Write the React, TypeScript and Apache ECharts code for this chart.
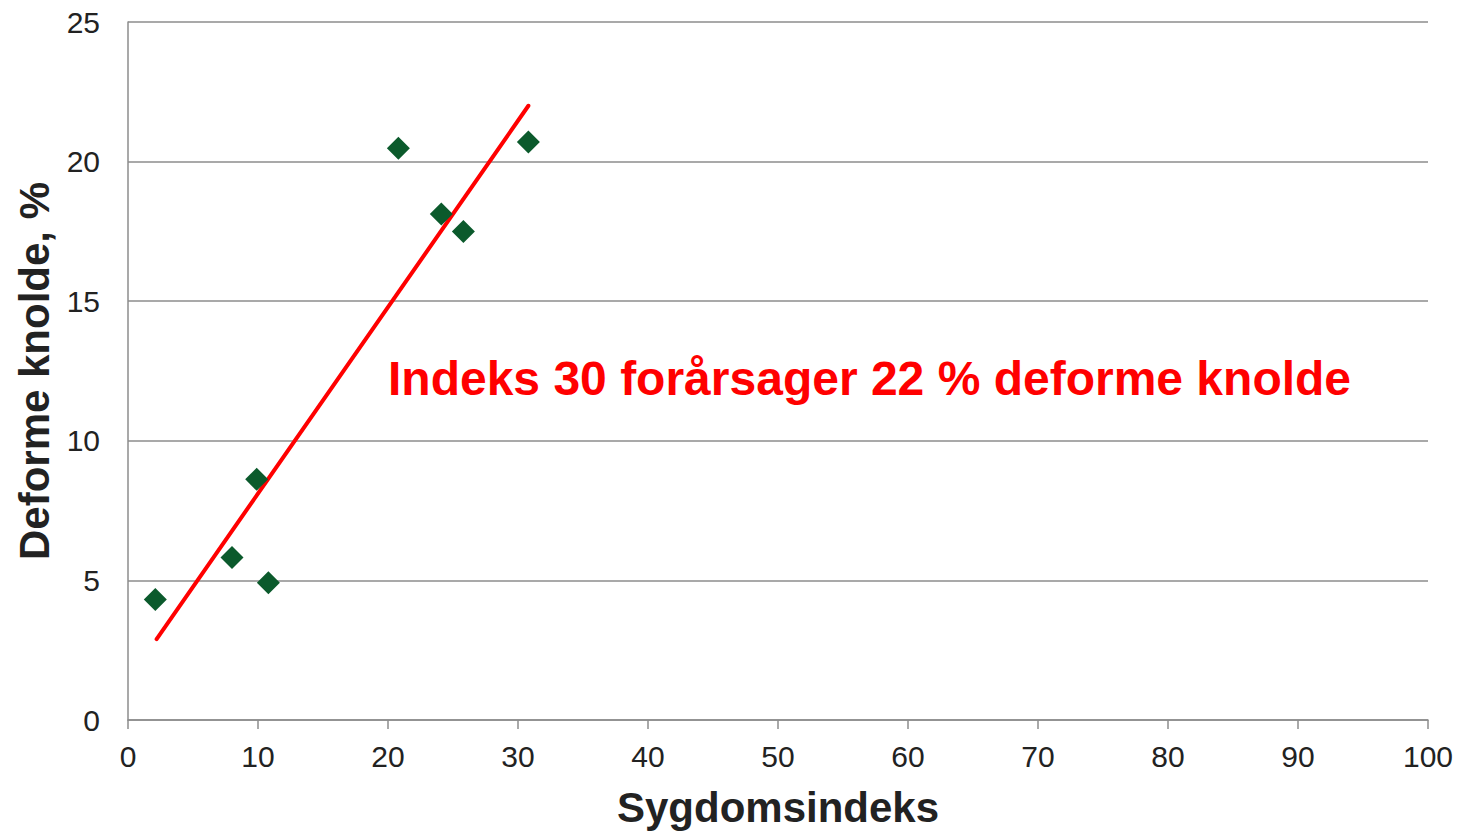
import React, { useEffect, useRef } from "react";
import * as echarts from "echarts";

const sygdomsindeks = [2.1, 8.0, 9.9, 10.8, 20.8, 24.1, 25.8, 30.8];
const deformeKnolde = [4.32, 5.82, 8.62, 4.92, 20.48, 18.12, 17.5, 20.7];
const trendX = [2.2, 30.8];
const trendY = [2.9, 22.0];
const xTicks = { min: 0, max: 100, interval: 10 };
const yTicks = { min: 0, max: 25, interval: 5 };
const xName = "Sygdomsindeks";
const yName = "Deforme knolde, %";
const annotation = "Indeks 30 forårsager 22 % deforme knolde";

const FONT = "'Liberation Sans', Arial, Helvetica, sans-serif";

export default function App() {
  const ref = useRef<HTMLDivElement>(null);
  useEffect(() => {
    if (!ref.current) return;
    const chart = echarts.init(ref.current, null, { renderer: "svg" });
    chart.setOption({
      animation: false,
      backgroundColor: "#ffffff",
      grid: { left: 128, right: 37, top: 22, bottom: 112, containLabel: false },
      xAxis: {
        type: "value",
        min: xTicks.min,
        max: xTicks.max,
        interval: xTicks.interval,
        name: xName,
        nameLocation: "middle",
        nameGap: 66,
        nameTextStyle: { fontFamily: FONT, fontSize: 42, fontWeight: "bold", color: "#222222" },
        axisLine: { show: true, lineStyle: { color: "#8c8c8c", width: 1.5 } },
        axisTick: { show: true, length: 9, lineStyle: { color: "#8c8c8c", width: 1.5 } },
        axisLabel: { fontFamily: FONT, fontSize: 30, color: "#222222", margin: 21 },
        splitLine: { show: false },
      },
      yAxis: {
        type: "value",
        min: yTicks.min,
        max: yTicks.max,
        interval: yTicks.interval,
        name: yName,
        nameLocation: "middle",
        nameGap: 71,
        nameTextStyle: { fontFamily: FONT, fontSize: 42, fontWeight: "bold", color: "#222222" },
        axisLine: { show: true, lineStyle: { color: "#8c8c8c", width: 1.5 } },
        axisTick: { show: false },
        axisLabel: { fontFamily: FONT, fontSize: 30, color: "#222222", margin: 28 },
        splitLine: { show: true, lineStyle: { color: "#8c8c8c", width: 1.5 } },
      },
      series: [
        {
          type: "line",
          data: trendX.map((x, i) => [x, trendY[i]]),
          showSymbol: false,
          symbol: "none",
          lineStyle: { color: "#ff0000", width: 4, cap: "round" },
          z: 2,
        },
        {
          type: "scatter",
          data: sygdomsindeks.map((x, i) => [x, deformeKnolde[i]]),
          symbol: "diamond",
          symbolSize: 23,
          itemStyle: { color: "#0b5a2c", opacity: 1 },
          z: 3,
        },
      ],
      graphic: [
        {
          type: "text",
          left: 388,
          top: 354,
          style: {
            text: annotation,
            fontFamily: FONT,
            fontSize: 48,
            fontWeight: "bold",
            fill: "#ff0000",
          },
          z: 10,
        },
      ],
    });
    return () => chart.dispose();
  }, []);
  return <div ref={ref} style={{ width: 1465, height: 833, position: "absolute", left: 0, top: 0 }} />;
}
